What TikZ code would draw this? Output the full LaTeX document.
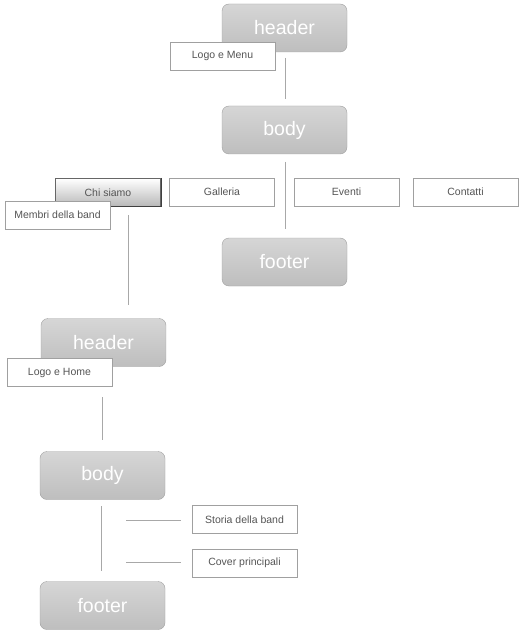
\documentclass[tikz,border=0pt]{standalone}
\usepackage{fontspec}
\setmainfont{Liberation Sans}
\definecolor{linegray}{HTML}{A8A8A8}
\definecolor{boxborder}{HTML}{A0A0A0}
\definecolor{labtext}{HTML}{555555}
\definecolor{secTop}{HTML}{D6D6D6}
\definecolor{secBot}{HTML}{BEBEBE}
\begin{document}
\begin{tikzpicture}[x=1pt,y=-1pt,
  section/.style={draw=boxborder,rounded corners=7pt,top color=secTop,bottom color=secBot,
    minimum width=125pt,minimum height=48pt,text=white,font=\fontsize{19.5}{21}\selectfont,inner sep=0pt},
  label/.style={draw=boxborder,fill=white,minimum width=105pt,minimum height=28pt,text=labtext,
    font=\fontsize{10.5}{12}\selectfont,inner sep=0pt},
  active/.style={draw=black!60,line width=1pt,top color=white,bottom color=black!28,minimum width=105pt,minimum height=28pt,
    text=labtext,font=\fontsize{10.5}{12}\selectfont,inner sep=0pt},
  conn/.style={draw=linegray,line width=0.8pt}]
\useasboundingbox (0,0) rectangle (526,636);
\fill[white] (0,0) rectangle (526,636);
% top column
\node[section] (h1) at (284.5,28) {header};
\node[label] (lm) at (222.5,56) {Logo e Menu};
\node[section] (b1) at (284.5,130) {body};
\node[section] (f1) at (284.5,262) {footer};
\coordinate (l1a) at (285,58); \coordinate (l1b) at (285,99);
\draw[conn] (l1a) -- (l1b);
\coordinate (l2a) at (285,162); \coordinate (l2b) at (285,229);
\draw[conn] (l2a) -- (l2b);
% menu row
\node[active] (chi) at (108,192.5) {Chi siamo};
\draw[black!75,line width=1pt] (chi.north east) -- (chi.south east) -- (chi.south west);
\node[label] (gal) at (222,192) {Galleria};
\node[label] (eve) at (346.5,192) {Eventi};
\node[label] (con) at (465.5,192) {Contatti};
\node[label] (mem) at (57.5,215) {Membri della band};
\coordinate (l3a) at (128,215); \coordinate (l3b) at (128,305);
\draw[conn] (l3a) -- (l3b);
% bottom column
\node[section] (h2) at (103.5,342.5) {header};
\node[label] (lh) at (59.5,372.5) {Logo e Home};
\node[section] (b2) at (102.5,475.5) {body};
\node[section] (f2) at (102.5,605.5) {footer};
\coordinate (l4a) at (102,397); \coordinate (l4b) at (102,440);
\draw[conn] (l4a) -- (l4b);
\coordinate (l5a) at (101,506); \coordinate (l5b) at (101,571);
\draw[conn] (l5a) -- (l5b);
\node[label] (sto) at (244.5,519.5) {Storia della band};
\node[label] (cov) at (244.5,563) {Cover principali};
\coordinate (s1) at (126,520); \coordinate (e1) at (181,520);
\coordinate (s2) at (126,562); \coordinate (e2) at (181,562);
\draw[conn] (s1) -- (e1);
\draw[conn] (s2) -- (e2);
\end{tikzpicture}
\end{document}
